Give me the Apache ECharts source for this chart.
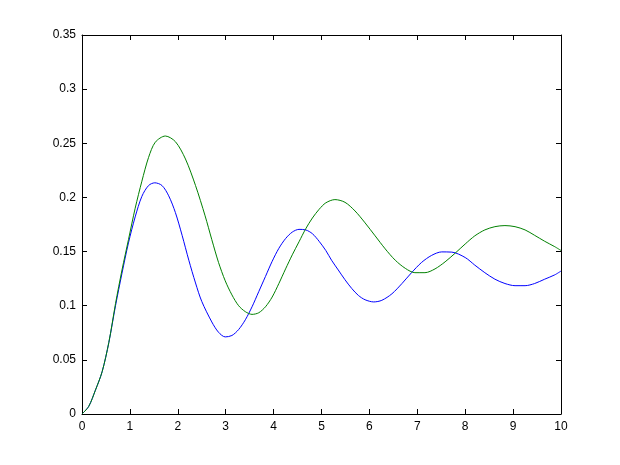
<!DOCTYPE html>
<html>
<head>
<meta charset="utf-8">
<script src="https://cdn.jsdelivr.net/npm/echarts@6/dist/echarts.min.js"></script>
<style>
html,body{margin:0;padding:0;background:#fff;}
#c{width:620px;height:465px;}
</style>
</head>
<body>
<div id="c"></div>
<script>
const xTicks = [0,1,2,3,4,5,6,7,8,9,10];
const yTicks = [0,0.05,0.1,0.15,0.2,0.25,0.3,0.35];

const blueX = [0,0.14,0.28,0.42,0.56,0.70,0.835,0.97,1.11,1.25,1.39,1.52,1.67,1.81,1.95,2.09,2.23,2.37,2.50,2.71,2.85,2.99,3.13,3.27,3.41,3.55,3.69,3.83,3.97,4.11,4.25,4.39,4.53,4.67,4.81,4.95,5.09,5.21,5.35,5.49,5.63,5.77,5.91,6.09,6.26,6.47,6.68,6.88,7.09,7.30,7.51,7.72,8.0,8.2,8.41,8.62,8.83,9.04,9.25,9.45,9.66,9.87,10];
const blueY = [0,0.007,0.022,0.039,0.066,0.100,0.130,0.158,0.182,0.201,0.211,0.2135,0.211,0.2015,0.186,0.165,0.142,0.121,0.104,0.085,0.0755,0.0712,0.0725,0.078,0.087,0.099,0.113,0.127,0.141,0.153,0.162,0.168,0.1705,0.170,0.1665,0.1595,0.151,0.142,0.133,0.124,0.116,0.1095,0.1055,0.1035,0.105,0.111,0.1205,0.1305,0.140,0.1465,0.1497,0.1495,0.1445,0.1375,0.1305,0.1245,0.1205,0.1185,0.1185,0.1205,0.1245,0.1285,0.132];

const greenX = [0,0.14,0.28,0.42,0.56,0.70,0.835,0.97,1.11,1.25,1.39,1.53,1.74,1.95,2.16,2.37,2.57,2.71,2.85,2.99,3.13,3.27,3.41,3.55,3.69,3.83,3.97,4.11,4.25,4.39,4.53,4.67,4.81,4.95,5.09,5.28,5.49,5.70,5.91,6.12,6.33,6.54,6.75,6.95,7.16,7.37,7.58,7.79,8.0,8.2,8.41,8.62,8.83,9.04,9.25,9.45,9.66,9.87,10];
const greenY = [0,0.007,0.022,0.039,0.066,0.102,0.133,0.161,0.190,0.215,0.237,0.251,0.2567,0.2515,0.2355,0.211,0.183,0.161,0.140,0.123,0.110,0.100,0.0945,0.092,0.0935,0.099,0.108,0.1205,0.134,0.147,0.159,0.171,0.181,0.189,0.195,0.198,0.1955,0.1875,0.1765,0.1645,0.1525,0.142,0.1345,0.1305,0.1305,0.134,0.1405,0.1485,0.157,0.1645,0.170,0.173,0.174,0.173,0.170,0.165,0.1595,0.1545,0.151];

function pairs(xs, ys){ return xs.map((x,i)=>[x, ys[i]]); }

const chart = echarts.init(document.getElementById('c'), null, {renderer:'canvas'});
const font = {fontFamily:'Liberation Sans, Arial, sans-serif', fontSize:12, color:'#000'};
const lineStyle = {color:'#000', width:1};
chart.setOption({
  animation:false,
  backgroundColor:'#fff',
  grid:{left:82, right:59, top:35, bottom:51},
  xAxis:[
    {type:'value', min:xTicks[0], max:xTicks[xTicks.length-1], interval:1, position:'bottom',
     axisLine:{show:true, onZero:false, lineStyle}, axisTick:{show:true, inside:true, length:5, lineStyle},
     axisLabel:Object.assign({margin:7, formatter:v=>String(v)}, font), splitLine:{show:false}},
    {type:'value', min:xTicks[0], max:xTicks[xTicks.length-1], interval:1, position:'top',
     axisLine:{show:true, onZero:false, lineStyle}, axisTick:{show:true, inside:true, length:5, lineStyle},
     axisLabel:{show:false}, splitLine:{show:false}}
  ],
  yAxis:[
    {type:'value', min:yTicks[0], max:yTicks[yTicks.length-1], interval:0.05, position:'left',
     axisLine:{show:true, onZero:false, lineStyle}, axisTick:{show:true, inside:true, length:5, lineStyle},
     axisLabel:Object.assign({margin:6, formatter:v=>String(+v.toFixed(2))}, font), splitLine:{show:false}},
    {type:'value', min:yTicks[0], max:yTicks[yTicks.length-1], interval:0.05, position:'right',
     axisLine:{show:true, onZero:false, lineStyle}, axisTick:{show:true, inside:true, length:5, lineStyle},
     axisLabel:{show:false}, splitLine:{show:false}}
  ],
  series:[
    {type:'line', data:pairs(blueX, blueY), smooth:0.3, showSymbol:false, lineStyle:{color:'#0000ff', width:1}},
    {type:'line', data:pairs(greenX, greenY), smooth:0.3, showSymbol:false, lineStyle:{color:'#008000', width:1}}
  ]
});
</script>
</body>
</html>
